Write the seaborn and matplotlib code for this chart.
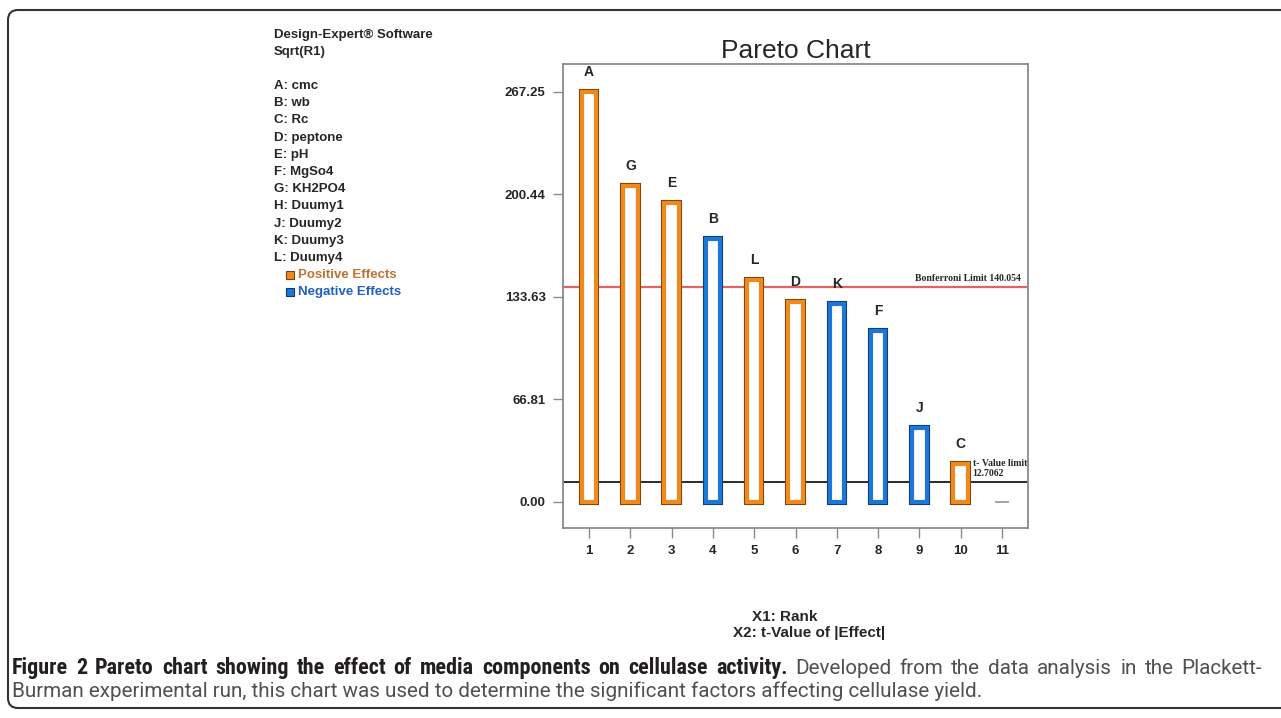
import matplotlib
matplotlib.use("Agg")
import matplotlib.pyplot as plt
import matplotlib.transforms as mtransforms
from matplotlib import patheffects as pe
from matplotlib import font_manager as fm
from matplotlib.patches import FancyBboxPatch
from matplotlib.lines import Line2D
import pandas as pd
import seaborn as sns

# ---- data -------------------------------------------------------------
ranks = [1, 2, 3, 4, 5, 6, 7, 8, 9, 10, 11]
factors = ["A", "G", "E", "B", "L", "D", "K", "F", "J", "C", "H"]
t_values = [267.25, 206.0, 195.0, 171.5, 144.7, 130.4, 129.0, 111.5, 48.2, 24.8, 0.0]
effects = ["Positive", "Positive", "Positive", "Negative", "Positive", "Positive",
           "Negative", "Negative", "Negative", "Positive", "None"]
y_ticks = [0.00, 66.81, 133.63, 200.44, 267.25]
bonferroni_limit = 140.054
t_value_limit = 12.7062

header_lines = ["Design-Expert\u00ae Software", "Sqrt(R1)"]
factor_names = ["A: cmc", "B: wb", "C: Rc", "D: peptone", "E: pH", "F: MgSo4",
                "G: KH2PO4", "H: Duumy1", "J: Duumy2", "K: Duumy3", "L: Duumy4"]

caption_bold = "Figure 2 Pareto chart showing the effect of media components on cellulase activity."
caption_rest = "Developed from the data analysis in the Plackett-"
caption_line2 = ("Burman experimental run, this chart was used to determine the significant "
                 "factors affecting cellulase yield.")

# ---- style ------------------------------------------------------------
sns.set_style("white")
plt.rcParams["font.family"] = ["Liberation Sans", "DejaVu Sans"]

ORANGE = "#F08A1E"
ORANGE_DARK = "#7A4208"
BLUE = "#1C77D6"
BLUE_DARK = "#0B3A78"
GRAY = "#8A8A8A"
palette = {"Positive": ORANGE, "Negative": BLUE, "None": "#9A9A9A"}
dark_edges = {"Positive": ORANGE_DARK, "Negative": BLUE_DARK}

W, H = 1281, 718
fig = plt.figure(figsize=(W / 100, H / 100), dpi=100)
fig.patch.set_facecolor("white")


def fx(px):
    return px / W


def fy(py):
    return 1 - py / H


ax = fig.add_axes([fx(563), fy(528), fx(1028) - fx(563), fy(64) - fy(528)])

df = pd.DataFrame({"Rank": ranks, "Factor": factors, "t": t_values, "Effect": effects})
sns.barplot(data=df, x="Rank", y="t", hue="Effect", palette=palette, saturation=1,
            dodge=False, width=0.35, errorbar=None, legend=False, ax=ax, zorder=3)

# hollow bars: white interior, thick coloured border with a thin dark rim
color_to_effect = {matplotlib.colors.to_hex(c): k for k, c in palette.items()}
for patch in ax.patches:
    eff = color_to_effect.get(matplotlib.colors.to_hex(patch.get_facecolor()), None)
    if eff is None:
        continue
    if eff == "None":
        patch.set_facecolor("none")
        patch.set_edgecolor(GRAY)
        patch.set_linewidth(1.1)
        continue
    patch.set_facecolor("white")
    patch.set_edgecolor(palette[eff])
    patch.set_linewidth(3.0)
    patch.set_joinstyle("miter")
    patch.set_path_effects([pe.Stroke(linewidth=4.4, foreground=dark_edges[eff],
                                      joinstyle="miter"), pe.Normal()])

# limit lines behind the bars
ax.axhline(bonferroni_limit, color="#E06464", lw=1.6, zorder=1)
ax.axhline(t_value_limit, color="#2B2B2B", lw=1.4, zorder=1)

# factor letters above bars
for i, (f, v, e) in enumerate(zip(factors, t_values, effects)):
    if e == "None":
        continue
    ax.annotate(f, (i, v), xytext=(0, 14.5), textcoords="offset points",
                ha="center", va="center", fontsize=10, fontweight="bold")

blend = mtransforms.blended_transform_factory(ax.transAxes, ax.transData)
ax.annotate(f"Bonferroni Limit {bonferroni_limit}", (1, bonferroni_limit), xycoords=blend,
            xytext=(-5, 6.5), textcoords="offset points", ha="right", va="center",
            family=["Liberation Serif", "DejaVu Serif"], fontweight="bold", fontsize=7)
ax.annotate(f"t- Value limit\n{t_value_limit}", (9, t_value_limit),
            xytext=(8.6, 10), textcoords="offset points", ha="left", va="center",
            family=["Liberation Serif", "DejaVu Serif"], fontweight="bold", fontsize=7,
            linespacing=1.05, zorder=4)

ax.set_xlim(-0.63, 10.63)
ax.set_ylim(-17, 285.5)
ax.set_yticks(y_ticks)
ax.set_yticklabels([f"{v:.2f}" for v in y_ticks])
ax.set_xlabel("")
ax.set_ylabel("")
ax.tick_params(axis="both", which="major", direction="out", length=7.5, width=1.0,
               color=GRAY, labelsize=9.5, pad=5, bottom=True, left=True)
for lab in ax.get_xticklabels() + ax.get_yticklabels():
    lab.set_fontweight("bold")
for sp in ax.spines.values():
    sp.set_visible(True)
    sp.set_color(GRAY)
    sp.set_linewidth(1.3)

ax.set_title("Pareto Chart", fontsize=19, pad=4.5)

# ---- side text block ---------------------------------------------------
for txt, py in zip(header_lines, [35, 52]):
    fig.text(fx(274), fy(py), txt, fontsize=9.5, fontweight="bold", va="center", ha="left")
for k, txt in enumerate(factor_names):
    fig.text(fx(274), fy(86 + 17.2 * k), txt, fontsize=9.5, fontweight="bold",
             va="center", ha="left")
legend_rows = [("Positive Effects", ORANGE, ORANGE_DARK, "#BF7330", 275),
               ("Negative Effects", BLUE, BLUE_DARK, "#2160BE", 292)]
for txt, fc, ec, tc, py in legend_rows:
    fig.add_artist(Line2D([fx(290)], [fy(py)], marker="s", ms=5.5, mfc=fc, mec=ec,
                          mew=0.8, transform=fig.transFigure))
    fig.text(fx(298), fy(py), txt, fontsize=9.5, fontweight="bold", color=tc,
             va="center", ha="left")

# axis description under the chart
fig.text(fx(752), fy(617), "X1: Rank", fontsize=11, fontweight="bold", va="center", ha="left")
fig.text(fx(733), fy(633), "X2: t-Value of |Effect|", fontsize=11, fontweight="bold",
         va="center", ha="left")

# ---- caption (justified first line, ragged last line) -----------------
installed = fm.fontManager.ttflist
names = {f.name for f in installed}
bold_family = next((c for c in ["Roboto Condensed", "Liberation Sans Narrow", "Roboto"]
                    if c in names), "Liberation Sans")
text_family = next((c for c in ["Roboto", "Lato", "Liberation Sans"] if c in names),
                   "Liberation Sans")

renderer = fig.canvas.get_renderer()


def natural_width(s, size, **kw):
    t = fig.text(0, 0, s, fontsize=size, **kw)
    w = t.get_window_extent(renderer).width
    t.remove()
    return w


probe_size = 10.0
text_size = probe_size * (985 - 12) / natural_width(
    caption_line2, probe_size, family=text_family)
bold_size = probe_size * (752 - 12) / natural_width(
    caption_bold, probe_size, family=bold_family, fontweight="bold")

BOLD_COLOR = "#231F20"
TEXT_COLOR = "#505050"

words = [(w, True) for w in caption_bold.split()] + [(w, False) for w in caption_rest.split()]
word_artists = []
for w, is_bold in words:
    if is_bold:
        t = fig.text(0, fy(674), w, fontsize=bold_size, family=bold_family,
                     fontweight="bold", color=BOLD_COLOR, va="baseline", ha="left")
    else:
        t = fig.text(0, fy(674), w, fontsize=text_size, family=text_family,
                     color=TEXT_COLOR, va="baseline", ha="left")
    word_artists.append(t)
widths = [t.get_window_extent(renderer).width for t in word_artists]
gap = (1262 - 12 - sum(widths)) / (len(words) - 1)
x = 12.0
for t, wd in zip(word_artists, widths):
    t.set_x(fx(x))
    x += wd + gap

fig.text(fx(12), fy(697), caption_line2, fontsize=text_size, family=text_family,
         va="baseline", ha="left", color=TEXT_COLOR)

# rounded frame around the figure panel
frame = FancyBboxPatch((8, H - 708), 1300, 698, boxstyle="round,pad=0,rounding_size=10",
                       transform=mtransforms.IdentityTransform(), fill=False,
                       ec="#333333", lw=1.5)
fig.add_artist(frame)

fig.savefig("out.png", dpi=100)
